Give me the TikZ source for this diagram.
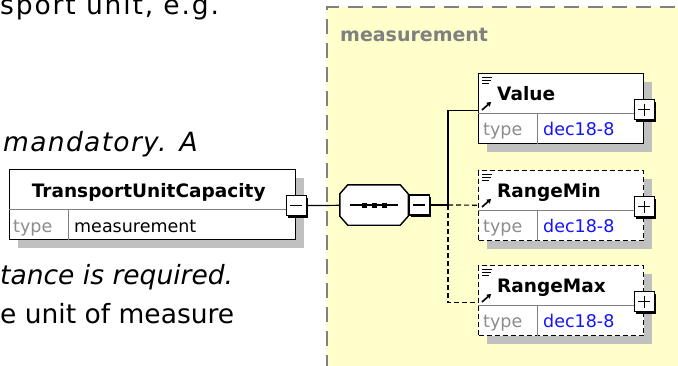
\documentclass[tikz,border=0pt]{standalone}
\usepackage{fontspec}
\setmainfont{DejaVu Sans}
\usepackage{tikz}
\usetikzlibrary{arrows.meta, positioning, calc, shadows}
\definecolor{grpyellow}{HTML}{FFFFCC}
\definecolor{grpgrey}{HTML}{808080}
\definecolor{shadegrey}{HTML}{C0C0C0}
\definecolor{typegrey}{HTML}{8C8C8C}
\definecolor{typeblue}{HTML}{1414FF}

\begin{document}
\begin{tikzpicture}[x=1pt, y=-1pt,
  bgtxt/.style={anchor=base west, inner sep=0pt, font=\fontsize{26.5}{30}\selectfont},
  grpbox/.style={draw=grpgrey, fill=grpyellow, line width=1.5pt,
    dash pattern=on 15pt off 9pt, rectangle, inner sep=0pt, anchor=north west},
  grplabel/.style={anchor=base west, inner sep=0pt, text=grpgrey,
    font=\fontsize{19}{22}\selectfont\bfseries},
  elembox/.style={draw=black, line width=1.4pt, fill=white, rectangle, inner sep=0pt,
    minimum width=165pt, minimum height=70pt, anchor=north west,
    drop shadow={shadow xshift=8pt, shadow yshift=-8pt, opacity=1, fill=shadegrey}},
  optline/.style={dash pattern=on 5pt off 3pt},
  divline/.style={draw=grpgrey, line width=1pt},
  titletxt/.style={anchor=base west, inner sep=0pt, font=\fontsize{18.5}{22}\selectfont\bfseries},
  typetxt/.style={anchor=base west, inner sep=0pt, text=typegrey, font=\fontsize{17.5}{20}\selectfont},
  valtxt/.style={anchor=base west, inner sep=0pt, font=\fontsize{17.5}{20}\selectfont},
  pmbox/.style={draw=black, fill=white, line width=1.2pt, rectangle, inner sep=0pt,
    minimum size=20pt,
    drop shadow={shadow xshift=2pt, shadow yshift=-2pt, opacity=1, fill=black}},
  pmsign/.style={line width=1.5pt},
  seqbox/.style={rectangle, inner sep=0pt, minimum width=68pt, minimum height=40pt},
  conn/.style={draw=black, line width=1.2pt},
  icon/.style={line width=1pt},
  refarrow/.style={-{Triangle[length=4pt, width=5pt]}, line width=1.6pt}]
  \useasboundingbox (0,0) rectangle (678,365);

  % text of the page behind the picture
  \node[bgtxt] (txta) at (0,14) {\addfontfeature{LetterSpace=7}sport unit, e.g.};
  \node[bgtxt] (txtb) at (3,151) {\itshape\addfontfeature{LetterSpace=5}mandatory. A};
  \node[bgtxt] (txtc) at (0,284) {\itshape tance is required.};
  \node[bgtxt] (txtd) at (0,323) {e unit of measure};

  % complex type group
  \node[grpbox, minimum width=380pt, minimum height=380pt] (grp) at (326,6) {};
  \node[grplabel] (grplbl) at (340,41) {measurement};

  % parent element
  \node[elembox, minimum width=286pt] (tuc) at (9,169) {};
  \draw[divline] ($(tuc.north west)+(0,40)$) -- ($(tuc.north east)+(0,40)$);
  \draw[divline] ($(tuc.north west)+(59,40)$) -- ($(tuc.south west)+(59,0)$);
  \node[titletxt, anchor=base] (tuc-t) at ($(tuc.north)+(-4,28)$) {TransportUnitCapacity};
  \node[typetxt] (tuc-k) at ($(tuc.north west)+(4,63)$) {type};
  \node[valtxt] (tuc-v) at ($(tuc.north west)+(65,63)$) {measurement};
  \node[pmbox] (tuc-p) at ($(tuc.east)+(0,1)$) {};
  \draw[pmsign] (tuc-p.center) +(-6,0) -- +(6,0);

  % sequence compositor
  \node[seqbox] (seq) at (374,205) {};
  \fill[shadegrey, shift={(8,8)}]
    ($(seq.north west)+(8,0)$) -- ($(seq.north east)+(-8,0)$) -- ($(seq.north east)+(0,9)$)
    -- ($(seq.south east)+(0,-9)$) -- ($(seq.south east)+(-8,0)$) -- ($(seq.south west)+(8,0)$)
    -- ($(seq.south west)+(0,-9)$) -- ($(seq.north west)+(0,9)$) -- cycle;
  \draw[line width=1.4pt, fill=white]
    ($(seq.north west)+(8,0)$) -- ($(seq.north east)+(-8,0)$) -- ($(seq.north east)+(0,9)$)
    -- ($(seq.south east)+(0,-9)$) -- ($(seq.south east)+(-8,0)$) -- ($(seq.south west)+(8,0)$)
    -- ($(seq.south west)+(0,-9)$) -- ($(seq.north west)+(0,9)$) -- cycle;
  \draw[line width=1.2pt] ($(seq.center)+(-24,0)$) -- ($(seq.center)+(24,0)$);
  \foreach \dx in {-10,0,10}
    \fill ($(seq.center)+(\dx-2.5,-2.5)$) rectangle +(5,5);
  \node[pmbox] (seq-p) at ($(seq.east)+(11,0)$) {};
  \draw[pmsign] (seq-p.center) +(-6,0) -- +(6,0);
  \coordinate (jn) at (448,205);

  % child elements
  \foreach \nm/\ty/\lbl/\bst in {val/73/Value/solid, rmin/170/RangeMin/optline,
      rmax/265/RangeMax/optline} {
    \node[elembox, \bst] (\nm) at (478,\ty) {};
    \draw[divline] ($(\nm.north west)+(0,40)$) -- ($(\nm.north east)+(0,40)$);
    \draw[divline] ($(\nm.north west)+(59,40)$) -- ($(\nm.south west)+(59,0)$);
    \draw[icon] ($(\nm.north west)+(4,4)$) -- +(10,0) ($(\nm.north west)+(4,7)$) -- +(9,0)
      ($(\nm.north west)+(4,10)$) -- +(7,0);
    \draw[refarrow] ($(\nm.north west)+(4,37)$) -- +(9,-8);
    \node[titletxt] (\nm-t) at ($(\nm.north west)+(19,27)$) {\lbl};
    \node[typetxt] (\nm-k) at ($(\nm.north west)+(5,62)$) {type};
    \node[valtxt, text=typeblue] (\nm-v) at ($(\nm.north west)+(65,62)$) {dec18-8};
    \node[pmbox] (\nm-p) at ($(\nm.east)+(0,1)$) {};
    \draw[pmsign] (\nm-p.center) +(-6,0) -- +(6,0) (\nm-p.center) +(0,-6) -- +(0,6);
  }

  % connectors
  \draw[conn] (tuc-p) -- (seq);
  \draw[conn] (seq-p) -- (jn);
  \draw[conn] (jn) |- ([yshift=-2pt]val.west);
  \draw[conn, optline] (jn) -- (rmin);
  \draw[conn, optline] (jn) |- ([yshift=-2pt]rmax.west);
\end{tikzpicture}
\end{document}
